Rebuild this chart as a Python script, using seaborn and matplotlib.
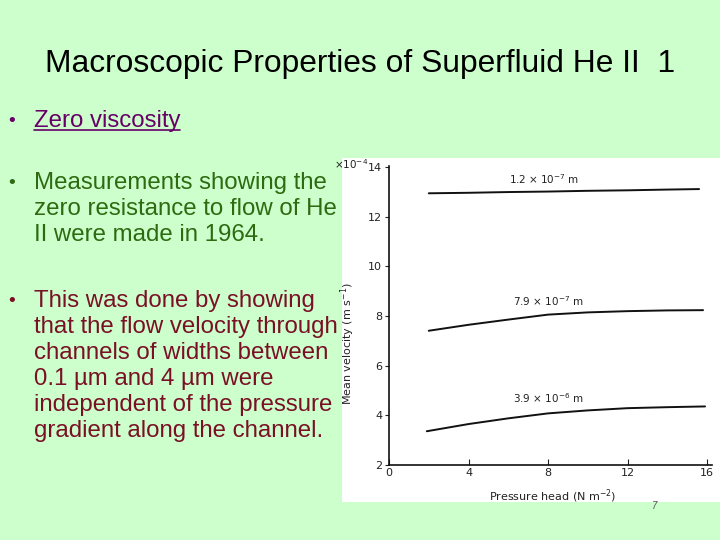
import matplotlib
matplotlib.use("Agg")
import matplotlib.pyplot as plt
import seaborn as sns
import pandas as pd
from matplotlib.patches import Rectangle
from matplotlib.lines import Line2D

# -----------------------------
# style
# -----------------------------
sns.set_style("ticks")
plt.rcParams["font.family"] = ["Liberation Sans", "DejaVu Sans"]

# -----------------------------
# data
# -----------------------------
pressure_narrow = [2, 4, 6, 8, 10, 12, 14, 15.6]
velocity_narrow = [12.95, 12.97, 13.0, 13.02, 13.05, 13.07, 13.1, 13.12]

pressure_mid = [2, 4, 6, 8, 10, 12, 14, 15.8]
velocity_mid = [7.41, 7.65, 7.86, 8.06, 8.15, 8.2, 8.23, 8.24]

pressure_wide = [1.9, 4, 6, 8, 10, 12, 14, 15.9]
velocity_wide = [3.36, 3.65, 3.88, 4.08, 4.2, 4.29, 4.33, 4.36]

channel_widths = ["1.2 \u00d7 10$^{-7}$ m", "7.9 \u00d7 10$^{-7}$ m", "3.9 \u00d7 10$^{-6}$ m"]

x_ticks = [0, 4, 8, 12, 16]
y_ticks = [2, 4, 6, 8, 10, 12, 14]

title = "Macroscopic Properties of Superfluid He II  1"
bullets = [
    "Zero viscosity",
    "Measurements showing the\nzero resistance to flow of He\nII were made in 1964.",
    "This was done by showing\nthat the flow velocity through\nchannels of widths between\n0.1 \u00b5m and 4 \u00b5m were\nindependent of the pressure\ngradient along the channel.",
]
bullet_colors = ["#660066", "#2d6a10", "#7a1025"]

# -----------------------------
# slide
# -----------------------------
bg = "#ccffcc"
fig = plt.figure(figsize=(7.2, 5.4), dpi=100, facecolor=bg)

fig.text(0.5, 0.8667, title, ha="center", va="baseline", fontsize=22.9, color="black")

# first-line baselines (pixels from top) of each bullet
first_base = [127, 189, 307]
line_step = 26
for txt, col, y0 in zip(bullets, bullet_colors, first_base):
    n = txt.count("\n")
    fig.text(0.011, 1 - (y0 - 1) / 540, "\u2022", ha="left", va="baseline",
             fontsize=14, color=col)
    # multi-line text: va="baseline" anchors the last line
    y_last = 1 - (y0 + n * line_step) / 540
    t = fig.text(0.047, y_last, txt, ha="left", va="baseline", fontsize=17.3,
                 color=col, linespacing=1.23)
    if n == 0:
        fig.canvas.draw()
        bb = t.get_window_extent().transformed(fig.transFigure.inverted())
        yu = 1 - (y0 + 3) / 540
        fig.add_artist(Line2D([bb.x0, bb.x1], [yu, yu],
                              transform=fig.transFigure, color=col, lw=1.2))

# white picture area
fig.add_artist(Rectangle((0.475, 0.0704), 0.53, 0.637, transform=fig.transFigure,
                         facecolor="white", edgecolor="none", zorder=0))

fig.text(0.909, 0.058, "7", fontsize=7, color="#555555", ha="center", style="italic")

# -----------------------------
# chart
# -----------------------------
ax = fig.add_axes([0.5403, 0.1389, 0.4486, 0.5537])
ax.set_facecolor("white")

curves = [
    (pressure_narrow, velocity_narrow, 7.8, 4),
    (pressure_mid, velocity_mid, 8.0, 5),
    (pressure_wide, velocity_wide, 8.0, 6),
]
for (px, vy, lx, off), lab in zip(curves, channel_widths):
    df = pd.DataFrame({"p": px, "v": vy})
    sns.lineplot(data=df, x="p", y="v", ax=ax, color="#111111", lw=1.4)
    yv = float(pd.Series(vy, index=px).reindex(sorted(set(px) | {lx})).interpolate().loc[lx])
    ax.annotate(lab, (lx, yv), xytext=(0, off), textcoords="offset points",
                ha="center", va="bottom", fontsize=7.5, color="#222222",
                family="DejaVu Sans")

ax.set_xlim(0, 16.25)
ax.set_ylim(2, 14.05)
ax.set_xticks(x_ticks)
ax.set_yticks(y_ticks)
ax.tick_params(axis="x", direction="in", length=4, width=0.8, labelsize=8,
               pad=2, colors="#222222")
ax.tick_params(axis="y", direction="out", length=3, width=0.8, labelsize=8,
               pad=2, colors="#222222")
for lab in ax.get_xticklabels() + ax.get_yticklabels():
    lab.set_family("DejaVu Sans")

sns.despine(ax=ax)
ax.spines["left"].set_linewidth(1.2)
ax.spines["bottom"].set_linewidth(1.2)
ax.spines["left"].set_color("#111111")
ax.spines["bottom"].set_color("#111111")

ax.set_xlabel("Pressure head (N m$^{-2}$)", fontsize=8, family="DejaVu Sans", color="#222222")
ax.xaxis.set_label_coords(0.508, -0.075)
ax.set_ylabel("Mean velocity (m s$^{-1}$)", fontsize=8, family="DejaVu Sans", color="#222222")
ax.yaxis.set_label_coords(-0.10, 0.405)

ax.text(-0.065, 1.005, "\u00d710$^{-4}$", transform=ax.transAxes, ha="right", va="center",
        fontsize=7.5, family="DejaVu Sans", color="#222222")

fig.savefig("out.png", dpi=100, facecolor=bg)
